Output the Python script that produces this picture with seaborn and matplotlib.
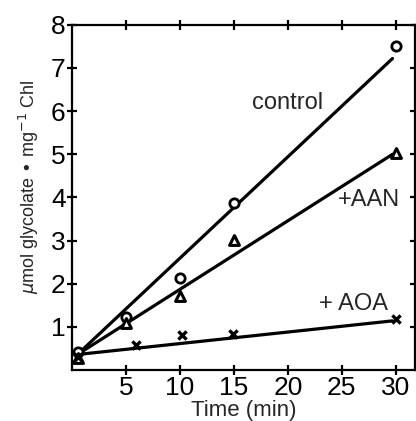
import numpy as np
import pandas as pd
import matplotlib
matplotlib.use("Agg")
import matplotlib.pyplot as plt
import seaborn as sns

control_t = [0.6, 5, 10, 15, 30]
control_y = [0.43, 1.24, 2.14, 3.88, 7.5]
aan_t = [0.6, 5, 10, 15, 30]
aan_y = [0.28, 1.08, 1.72, 3.02, 5.04]
aoa_t = [0.6, 5.9, 10.2, 14.9, 30]
aoa_y = [0.3, 0.57, 0.82, 0.84, 1.19]

# straight lines drawn through the points
fit_t = [0.5, 29.7]
control_fit = [0.36, 7.22]
aan_fit = [0.36, 5.0]
aoa_fit = [0.36, 1.14]

x_ticks = [5, 10, 15, 20, 25, 30]
y_ticks = [1, 2, 3, 4, 5, 6, 7, 8]

sns.set_style("ticks")
plt.rcParams['font.family'] = ['Liberation Sans', 'DejaVu Sans']

fig = plt.figure(figsize=(4.16, 4.21), dpi=100)
ax = fig.add_axes([0.173, 0.121, 0.825, 0.82])

for fit in [control_fit, aan_fit, aoa_fit]:
    sns.lineplot(x=fit_t, y=fit, ax=ax, color="black", linewidth=2.3)

sns.scatterplot(x=control_t, y=control_y, ax=ax, marker="o", s=45,
                facecolor="white", edgecolor="black", linewidth=2.0, zorder=3)
sns.scatterplot(x=aan_t, y=aan_y, ax=ax, marker="^", s=50,
                facecolor="white", edgecolor="black", linewidth=2.2, zorder=3)
sns.scatterplot(x=aoa_t, y=aoa_y, ax=ax, marker="x", s=35,
                color="black", linewidth=2.4, zorder=3)

ax.set_xlim(0, 31.8)
ax.set_ylim(0, 8)
ax.set_xticks(x_ticks)
ax.set_yticks(y_ticks)
for s in ax.spines.values():
    s.set_visible(True)
    s.set_linewidth(1.6)
    s.set_color("black")

ax.tick_params(axis="both", which="major", direction="inout", length=7,
               width=1.6, labelsize=19, colors="black", pad=1)
ax.tick_params(top=True, right=True, labeltop=False, labelright=False)

ax.set_xlabel("Time (min)", fontsize=16, labelpad=0)
ax.set_ylabel("$\\mu$mol glycolate \u2022 mg$^{-1}$ Chl", fontsize=13)
ax.yaxis.set_label_coords(-0.09, 0.53)

ax.text(23.3, 6.2, "control", fontsize=17, ha="right", va="center")
ax.text(27.5, 3.94, "+AAN", fontsize=17, ha="center", va="center")
ax.text(29.3, 1.53, "+ AOA", fontsize=17, ha="right", va="center")

fig.savefig("out.png", dpi=100)
